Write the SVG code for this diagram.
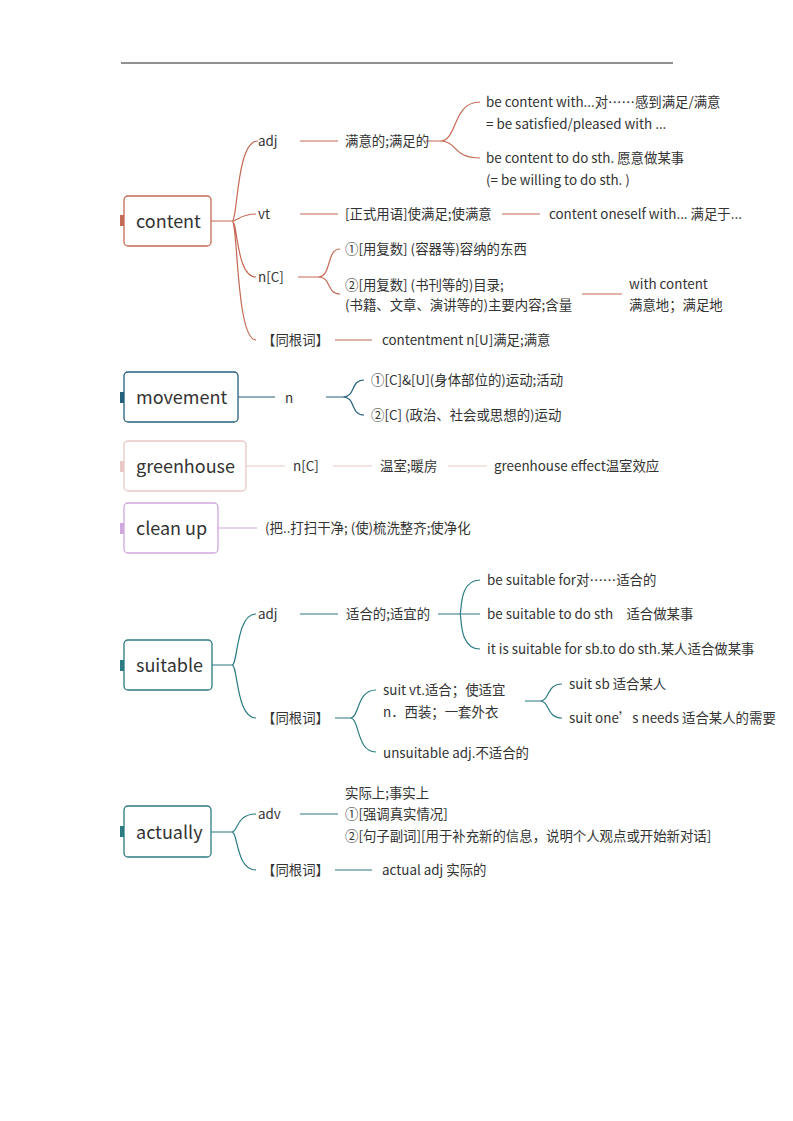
<svg xmlns="http://www.w3.org/2000/svg" width="793" height="1121" viewBox="0 0 793 1121">
<style>
text{font-family:"Noto Sans CJK SC","Noto Sans",sans-serif;font-size:13.4px;fill:#333;dominant-baseline:middle}
.t{font-size:18px}
.box{fill:#fff;stroke-width:1.3}
.l{fill:none;stroke-width:1.2}
.r{stroke:#c56a55}.b{stroke:#24607c}.p{stroke:#e9c9c6}.v{stroke:#cfa8dd}.g{stroke:#2a7b82}
</style>
<rect width="793" height="1121" fill="#fff"/>
<line x1="121" y1="63" x2="673" y2="63" stroke="#222" stroke-width="1.2"/>
<g id="connectors">
<g class="l r">
<path d="M211 221H232M232 221C238 221 236 141 258 141M232 221C238 221 240 214 256 214M232 221C238 221 236 277 256 277M232 221C238 221 236 340 256 340"/>
<path d="M300 141H338M426 141H440M440 141C458 141 452 102 480 102M440 141C458 141 452 158 480 158"/>
<path d="M300 214H338M502 214H540"/>
<path d="M298 277H318M318 277C332 277 326 249 340 249M318 277C332 277 326 294 340 294M582 294H622"/>
<path d="M335 340H372"/>
</g>
<g class="l b"><path d="M238 397H275M326 397H343M343 397C356 397 350 380 364 380M343 397C356 397 350 415 364 415"/></g>
<g class="l p"><path d="M246 466H285M333 466H372M448 466H487"/></g>
<g class="l v"><path d="M218 528H257"/></g>
<g class="l g">
<path d="M212 665H232M232 665C238 665 236 614 256 614M232 665C238 665 236 718 256 718"/>
<path d="M300 614H338M438 614H480M460 614C462 614 458 580 480 580M460 614C462 614 458 649 480 649"/>
<path d="M335 718H350M350 718C360 718 356 690 376 690M350 718C360 718 356 752 376 752"/>
<path d="M525 701H540M540 701C550 701 546 684 562 684M540 701C550 701 546 718 562 718"/>
</g>
<g class="l g">
<path d="M211 832H232M232 832C238 832 236 814 256 814M232 832C238 832 236 870 256 870"/>
<path d="M300 814H338M335 870H372"/>
</g>
</g>
<g id="content">
<rect x="120" y="215" width="4" height="11" fill="#c56a55"/>
<rect class="box r" x="124" y="196" width="87" height="50" rx="4"/>
<text class="t" x="136" y="223">content</text>
<text x="258" y="142">adj</text>
<text x="345" y="142">满意的;满足的</text>
<text x="486" y="103">be content with...对……感到满足/满意</text>
<text x="486" y="125">= be satisfied/pleased with ...</text>
<text x="486" y="159">be content to do sth. 愿意做某事</text>
<text x="486" y="181">(= be willing to do sth. )</text>
<text x="258" y="215">vt</text>
<text x="345" y="215">[正式用语]使满足;使满意</text>
<text x="549" y="215">content oneself with... 满足于...</text>
<text x="258" y="278">n[C]</text>
<text x="345" y="250">①[用复数] (容器等)容纳的东西</text>
<text x="345" y="286">②[用复数] (书刊等的)目录;</text>
<text x="345" y="306">(书籍、文章、演讲等的)主要内容;含量</text>
<text x="629" y="285">with content</text>
<text x="629" y="306">满意地；满足地</text>
<text x="262" y="341">【同根词】</text>
<text x="382" y="341">contentment n[U]满足;满意</text>
</g>
<g id="movement">
<rect x="120" y="392" width="4" height="11" fill="#24607c"/>
<rect class="box b" x="124" y="372" width="114" height="50" rx="4"/>
<text class="t" x="136" y="399">movement</text>
<text x="285" y="399">n</text>
<text x="371" y="381">①[C]&amp;[U](身体部位的)运动;活动</text>
<text x="371" y="416">②[C] (政治、社会或思想的)运动</text>
</g>
<g id="greenhouse">
<rect x="120" y="461" width="4" height="11" fill="#e9c9c6"/>
<rect class="box p" x="124" y="441" width="122" height="50" rx="4"/>
<text class="t" x="136" y="468">greenhouse</text>
<text x="293" y="467">n[C]</text>
<text x="380" y="467">温室;暖房</text>
<text x="494" y="467">greenhouse effect温室效应</text>
</g>
<g id="cleanup">
<rect x="120" y="523" width="4" height="11" fill="#cfa8dd"/>
<rect class="box v" x="124" y="503" width="94" height="50" rx="4"/>
<text class="t" x="136" y="530">clean up</text>
<text x="265" y="529">(把..打扫干净; (使)梳洗整齐;使净化</text>
</g>
<g id="suitable">
<rect x="120" y="660" width="4" height="11" fill="#2a7b82"/>
<rect class="box g" x="124" y="640" width="88" height="50" rx="4"/>
<text class="t" x="136" y="667">suitable</text>
<text x="258" y="615">adj</text>
<text x="346" y="615">适合的;适宜的</text>
<text x="487" y="581">be suitable for对……适合的</text>
<text x="487" y="615">be suitable to do sth　适合做某事</text>
<text x="487" y="650">it is suitable for sb.to do sth.某人适合做某事</text>
<text x="262" y="719">【同根词】</text>
<text x="383" y="691">suit vt.适合；使适宜</text>
<text x="383" y="713">n．西装；一套外衣</text>
<text x="383" y="754">unsuitable adj.不适合的</text>
<text x="569" y="685">suit sb 适合某人</text>
<text x="569" y="719">suit one’s needs 适合某人的需要</text>
</g>
<g id="actually">
<rect x="120" y="826" width="4" height="11" fill="#2a7b82"/>
<rect class="box g" x="124" y="806" width="87" height="51" rx="4"/>
<text class="t" x="136" y="834">actually</text>
<text x="258" y="815">adv</text>
<text x="345" y="794">实际上;事实上</text>
<text x="345" y="815">①[强调真实情况]</text>
<text x="345" y="837">②[句子副词][用于补充新的信息，说明个人观点或开始新对话]</text>
<text x="262" y="871">【同根词】</text>
<text x="382" y="871">actual adj 实际的</text>
</g>
</svg>
